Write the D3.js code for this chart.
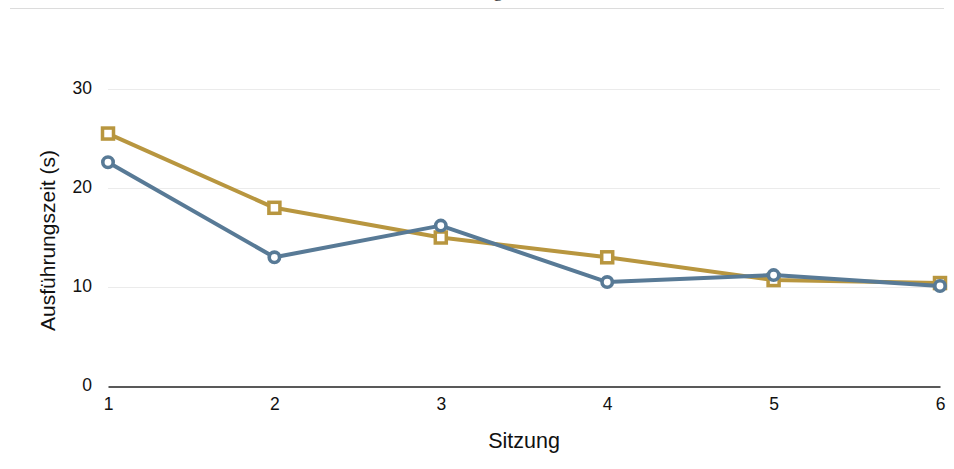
<!DOCTYPE html>
<html>
<head>
<meta charset="utf-8">
<script src="https://cdn.jsdelivr.net/npm/d3@7"></script>
<style>
  html, body { margin: 0; padding: 0; background: #fff; }
  svg { display: block; }
</style>
</head>
<body>
<svg id="chart" width="954" height="469"></svg>
<script>
// Sessions and mean execution time per session (seconds)
const sessions = [1, 2, 3, 4, 5, 6];
const seriesA = [25.5, 18.0, 15.0, 13.0, 10.7, 10.4];   // gold, square markers
const seriesB = [22.6, 13.0, 16.2, 10.5, 11.2, 10.1];   // blue, circle markers
const yTicks = [0, 10, 20, 30];
const titleText = "Ausführungszeit";
const xTitle = "Sitzung";
const yTitle = "Ausführungszeit (s)";

const W = 954, H = 469;
const margin = { left: 108, right: 14, top: 89, bottom: 83 };
const svg = d3.select("#chart");
const font = "'Liberation Sans', Arial, Helvetica, sans-serif";

const x = d3.scaleLinear().domain([1, 6]).range([margin.left, W - margin.right]);
const y = d3.scaleLinear().domain([0, 30]).range([H - margin.bottom, margin.top]);

// Title (runs off the top edge) and rule beneath it
svg.append("text")
  .attr("x", 476).attr("y", -3)
  .attr("text-anchor", "middle")
  .attr("font-family", "'Liberation Serif', 'DejaVu Serif', serif")
  .attr("font-size", 18)
  .attr("fill", "#333")
  .text(titleText);
svg.append("line")
  .attr("x1", 10).attr("x2", 944)
  .attr("y1", 8.5).attr("y2", 8.5)
  .attr("stroke", "#dcdcdc").attr("stroke-width", 1);

// Horizontal gridlines
svg.append("g")
  .selectAll("line")
  .data(yTicks.filter(d => d > 0))
  .join("line")
  .attr("x1", x(1)).attr("x2", x(6))
  .attr("y1", d => Math.round(y(d)) + 0.5).attr("y2", d => Math.round(y(d)) + 0.5)
  .attr("stroke", "#ebebeb").attr("stroke-width", 1);

// Y axis labels
const yAxis = d3.axisLeft(y).tickValues(yTicks).tickSize(0).tickPadding(16);
const gy = svg.append("g").attr("transform", `translate(${margin.left},0)`).call(yAxis);
gy.select(".domain").remove();
gy.selectAll("text").attr("font-family", font).attr("font-size", 17.5).attr("fill", "#111")
  .attr("dy", "0.25em");

// X axis
const xAxis = d3.axisBottom(x).tickValues(sessions).tickSize(0).tickPadding(11)
  .tickFormat(d3.format("d"));
const gx = svg.append("g").attr("transform", `translate(0,${Math.round(y(0)) + 0.5})`).call(xAxis);
gx.select(".domain").attr("stroke", "#222").attr("stroke-width", 1.3);
gx.selectAll("text").attr("font-family", font).attr("font-size", 17.5).attr("fill", "#111");

// Axis titles
svg.append("text")
  .attr("x", (x(1) + x(6)) / 2).attr("y", 448)
  .attr("text-anchor", "middle")
  .attr("font-family", font).attr("font-size", 21.5).attr("fill", "#111")
  .text(xTitle);
svg.append("text")
  .attr("transform", `translate(55,${(y(0) + y(30)) / 2 + 3}) rotate(-90)`)
  .attr("text-anchor", "middle")
  .attr("font-family", font).attr("font-size", 21).attr("fill", "#111")
  .text(yTitle);

const line = d3.line().x((d, i) => x(sessions[i])).y(d => y(d));

// Gold series with square markers
const gold = "#b8963f";
svg.append("path").datum(seriesA)
  .attr("d", line).attr("fill", "none")
  .attr("stroke", gold).attr("stroke-width", 4).attr("stroke-linejoin", "round");
svg.append("g").selectAll("rect").data(seriesA).join("rect")
  .attr("x", (d, i) => x(sessions[i]) - 5.5)
  .attr("y", d => y(d) - 5.5)
  .attr("width", 11).attr("height", 11)
  .attr("fill", "#fff").attr("stroke", gold).attr("stroke-width", 3.5);

// Blue series with circle markers
const blue = "#587a96";
svg.append("path").datum(seriesB)
  .attr("d", line).attr("fill", "none")
  .attr("stroke", blue).attr("stroke-width", 4).attr("stroke-linejoin", "round");
svg.append("g").selectAll("circle").data(seriesB).join("circle")
  .attr("cx", (d, i) => x(sessions[i]))
  .attr("cy", d => y(d))
  .attr("r", 5.2)
  .attr("fill", "#fff").attr("stroke", blue).attr("stroke-width", 3.6);
</script>
</body>
</html>
